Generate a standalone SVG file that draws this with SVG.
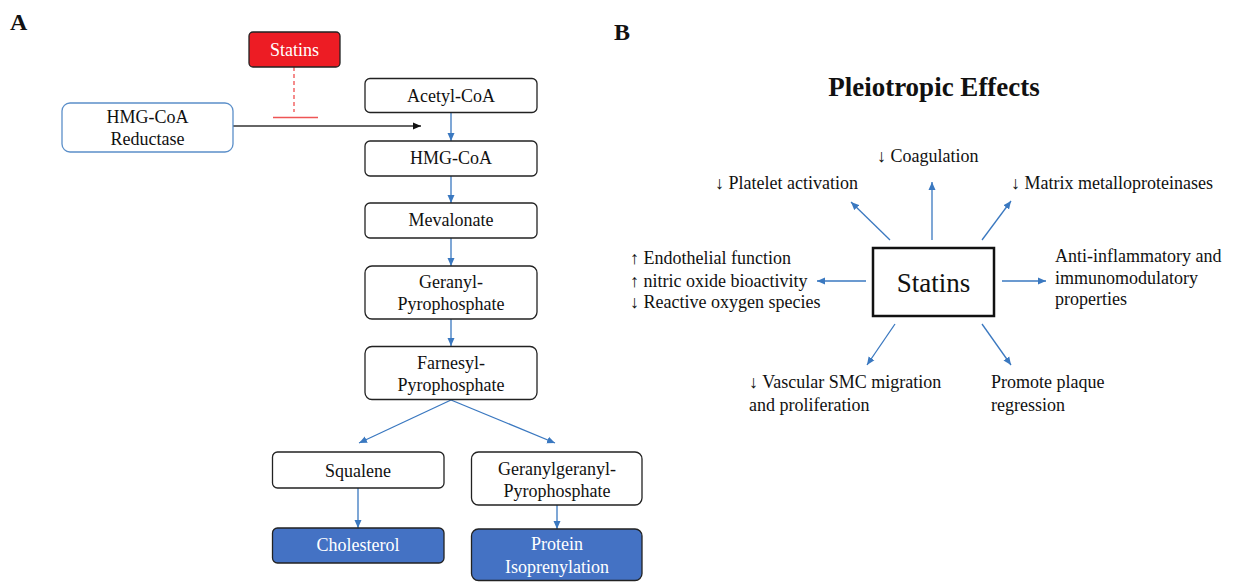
<svg xmlns="http://www.w3.org/2000/svg" width="1234" height="582" viewBox="0 0 1234 582">
<style>
text{font-family:"Liberation Serif","Times New Roman",serif;fill:#111}
.t{font-size:18px}
.c{text-anchor:middle}
.box{fill:#fff;stroke:#222;stroke-width:1.3}
.dark{fill:#4472C4;stroke:#222;stroke-width:1.3}
.wt{fill:#fff}
.bl{stroke:#3A78C0;stroke-width:1.3;fill:none;marker-end:url(#ab)}
.lbl{font-size:24px;font-weight:bold}
</style>
<defs>
<marker id="ab" markerUnits="userSpaceOnUse" markerWidth="9" markerHeight="8" refX="8" refY="4" orient="auto">
<path d="M0,0.5 L8,4 L0,7.5 Z" fill="#3A78C0"/>
</marker>
<marker id="ak" markerUnits="userSpaceOnUse" markerWidth="9" markerHeight="8" refX="8" refY="4" orient="auto">
<path d="M0,0.5 L8,4 L0,7.5 Z" fill="#111"/>
</marker>
</defs>
<rect width="1234" height="582" fill="#fff"/>
<text class="lbl" x="10" y="30">A</text>
<text class="lbl" x="614" y="40">B</text>

<g id="connectors">
<line x1="294" y1="67" x2="294" y2="112" stroke="#EE4040" stroke-width="1.2" stroke-dasharray="4,3"/>
<line x1="273" y1="117.5" x2="318" y2="117.5" stroke="#EE5555" stroke-width="1.6"/>
<line x1="233" y1="126" x2="421" y2="126" stroke="#333" stroke-width="1.3" marker-end="url(#ak)"/>
<line class="bl" x1="451" y1="113" x2="451" y2="141"/>
<line class="bl" x1="451" y1="176" x2="451" y2="203"/>
<line class="bl" x1="451" y1="238" x2="451" y2="266"/>
<line class="bl" x1="451" y1="319" x2="451" y2="346"/>
<line class="bl" x1="451" y1="400" x2="359" y2="443"/>
<line class="bl" x1="451" y1="400" x2="555" y2="443"/>
<line class="bl" x1="358" y1="488" x2="358" y2="528"/>
<line class="bl" x1="557" y1="505" x2="557" y2="529"/>
<line class="bl" x1="890" y1="240" x2="851" y2="202"/>
<line class="bl" x1="932" y1="240" x2="932" y2="182"/>
<line class="bl" x1="982" y1="240" x2="1011" y2="201"/>
<line class="bl" x1="866" y1="281" x2="817" y2="281"/>
<line class="bl" x1="1002" y1="281" x2="1046" y2="281"/>
<line class="bl" x1="895" y1="324" x2="867" y2="365"/>
<line class="bl" x1="982" y1="324" x2="1011" y2="365"/>
</g>

<g id="statinsA">
<rect x="249" y="32" width="91" height="35" rx="4" fill="#ED1C24" stroke="#222" stroke-width="1.3"/>
<text class="t c wt" x="294.5" y="56" font-size="17">Statins</text>
</g>
<g id="hmgcoaReductase">
<rect x="62" y="103" width="171" height="49" rx="8" fill="#fff" stroke="#5B8FC9" stroke-width="1.3"/>
<text class="t c" x="147.5" y="123">HMG-CoA</text>
<text class="t c" x="147.5" y="145">Reductase</text>
</g>
<g id="acetylcoa">
<rect class="box" x="365" y="78.5" width="172" height="34" rx="5"/>
<text class="t c" x="451" y="102">Acetyl-CoA</text>
</g>
<g id="hmgcoa">
<rect class="box" x="365" y="141" width="172" height="35" rx="5"/>
<text class="t c" x="451" y="164">HMG-CoA</text>
</g>
<g id="mevalonate">
<rect class="box" x="365" y="203" width="172" height="35" rx="5"/>
<text class="t c" x="451" y="226">Mevalonate</text>
</g>
<g id="geranylpp">
<rect class="box" x="365" y="266" width="172" height="53" rx="7"/>
<text class="t c" x="451" y="288">Geranyl-</text>
<text class="t c" x="451" y="310">Pyrophosphate</text>
</g>
<g id="farnesylpp">
<rect class="box" x="365" y="346.5" width="172" height="53" rx="7"/>
<text class="t c" x="451" y="369">Farnesyl-</text>
<text class="t c" x="451" y="391">Pyrophosphate</text>
</g>
<g id="squalene">
<rect class="box" x="272.5" y="452" width="171.5" height="36" rx="5"/>
<text class="t c" x="358" y="477">Squalene</text>
</g>
<g id="ggpp">
<rect class="box" x="471.5" y="452" width="170.5" height="53" rx="7"/>
<text class="t c" x="557" y="475">Geranylgeranyl-</text>
<text class="t c" x="557" y="497">Pyrophosphate</text>
</g>
<g id="cholesterol">
<rect class="dark" x="272.5" y="528" width="171.5" height="35" rx="5"/>
<text class="t c wt" x="358" y="551">Cholesterol</text>
</g>
<g id="protein">
<rect class="dark" x="471.5" y="529" width="170.5" height="51.5" rx="7"/>
<text class="t c wt" x="557" y="550">Protein</text>
<text class="t c wt" x="557" y="573">Isoprenylation</text>
</g>

<text x="934" y="96" font-size="27" font-weight="bold" class="c">Pleiotropic Effects</text>
<g id="statinsB">
<rect x="873" y="248" width="121" height="68" fill="#fff" stroke="#111" stroke-width="2.5"/>
<text class="c" x="933.5" y="292" font-size="27">Statins</text>
</g>
<g id="coagulation"><text class="t" x="877" y="162">↓ Coagulation</text></g>
<g id="platelet"><text class="t" x="715" y="189">↓ Platelet activation</text></g>
<g id="mmp"><text class="t" x="1011" y="189">↓ Matrix metalloproteinases</text></g>
<g id="endothelial">
<text class="t" x="630" y="264">↑ Endothelial function</text>
<text class="t" x="630" y="287">↑ nitric oxide bioactivity</text>
<text class="t" x="630" y="308">↓ Reactive oxygen species</text>
</g>
<g id="antiinflammatory">
<text class="t" x="1055" y="262">Anti-inflammatory and</text>
<text class="t" x="1055" y="284">immunomodulatory</text>
<text class="t" x="1055" y="305">properties</text>
</g>
<g id="vsmc">
<text class="t" x="749" y="388">↓ Vascular SMC migration</text>
<text class="t" x="749" y="411">and proliferation</text>
</g>
<g id="plaque">
<text class="t" x="991" y="388">Promote plaque</text>
<text class="t" x="991" y="411">regression</text>
</g>
</svg>
